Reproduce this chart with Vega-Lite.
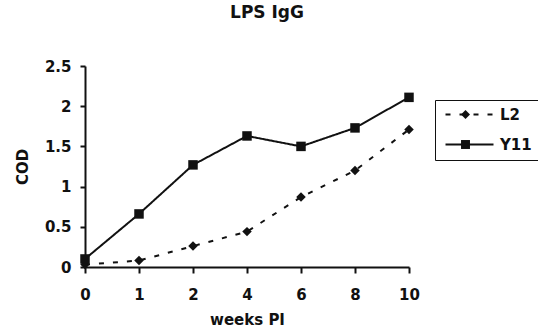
{
  "$schema": "https://vega.github.io/schema/vega-lite/v6.json",
  "width": 324,
  "height": 201,
  "autosize": "none",
  "padding": {"left": 85, "top": 66, "right": 129, "bottom": 63},
  "background": "white",
  "title": {"text": "LPS IgG", "fontSize": 17, "font": "DejaVu Sans", "fontWeight": "bold", "color": "#111", "offset": 37, "dx": 20, "anchor": "middle"},
  "config": {
    "view": {"stroke": null},
    "font": "DejaVu Sans",
    "axis": {
      "grid": false,
      "domainColor": "#111",
      "domainWidth": 2,
      "tickColor": "#111",
      "tickWidth": 2,
      "labelColor": "#111",
      "labelFont": "DejaVu Sans",
      "labelFontSize": 15,
      "labelFontWeight": "bold",
      "titleColor": "#111",
      "titleFont": "DejaVu Sans",
      "titleFontSize": 15,
      "titleFontWeight": "bold"
    }
  },
  "data": {
    "values": [
      {"week": 0, "series": "L2", "cod": 0.03},
      {"week": 1, "series": "L2", "cod": 0.08},
      {"week": 2, "series": "L2", "cod": 0.26},
      {"week": 4, "series": "L2", "cod": 0.44},
      {"week": 6, "series": "L2", "cod": 0.87},
      {"week": 8, "series": "L2", "cod": 1.2},
      {"week": 10, "series": "L2", "cod": 1.71},
      {"week": 0, "series": "Y11", "cod": 0.1},
      {"week": 1, "series": "Y11", "cod": 0.66},
      {"week": 2, "series": "Y11", "cod": 1.27},
      {"week": 4, "series": "Y11", "cod": 1.63},
      {"week": 6, "series": "Y11", "cod": 1.5},
      {"week": 8, "series": "Y11", "cod": 1.73},
      {"week": 10, "series": "Y11", "cod": 2.11}
    ]
  },
  "encoding": {
    "x": {
      "field": "week",
      "type": "ordinal",
      "scale": {"type": "point", "padding": 0},
      "axis": {"title": "weeks PI", "labelAngle": 0, "tickSize": 6, "labelPadding": 14, "titlePadding": 10}
    },
    "y": {
      "field": "cod",
      "type": "quantitative",
      "scale": {"domain": [0, 2.5], "nice": false},
      "axis": {"title": "COD", "values": [0, 0.5, 1, 1.5, 2, 2.5], "format": "~g", "tickSize": 5, "labelPadding": 9, "titlePadding": 14}
    }
  },
  "layer": [
    {
      "mark": {"type": "line", "color": "#111", "strokeWidth": 2},
      "encoding": {
        "strokeDash": {
          "field": "series",
          "type": "nominal",
          "scale": {"domain": ["L2", "Y11"], "range": [[5, 9], [1, 0]]},
          "legend": {
            "title": null,
            "orient": "none",
            "legendX": 350,
            "legendY": 34,
            "symbolType": "M-1,0H11",
            "symbolSize": 64,
            "symbolStrokeWidth": 2,
            "symbolStrokeColor": "#111",
            "labelFont": "DejaVu Sans",
            "labelFontWeight": "bold",
            "labelFontSize": 15,
            "labelColor": "#111",
            "labelOffset": 43,
            "rowPadding": 14,
            "padding": 7,
            "strokeColor": "#111"
          }
        }
      }
    },
    {
      "mark": {"type": "point", "filled": true, "color": "#111", "opacity": 1, "size": 90},
      "encoding": {
        "shape": {
          "field": "series",
          "type": "nominal",
          "scale": {"domain": ["L2", "Y11"], "range": ["diamond", "square"]},
          "legend": {
            "title": null,
            "orient": "none",
            "legendX": 366,
            "legendY": 34,
            "symbolSize": 80,
            "symbolFillColor": "#111",
            "symbolStrokeColor": "#111",
            "labelFont": "DejaVu Sans",
            "labelFontWeight": "bold",
            "labelFontSize": 15,
            "labelExpr": "' '",
            "labelColor": "transparent",
            "rowPadding": 14,
            "padding": 7
          }
        }
      }
    }
  ],
  "resolve": {"legend": {"strokeDash": "independent", "shape": "independent"}}
}
